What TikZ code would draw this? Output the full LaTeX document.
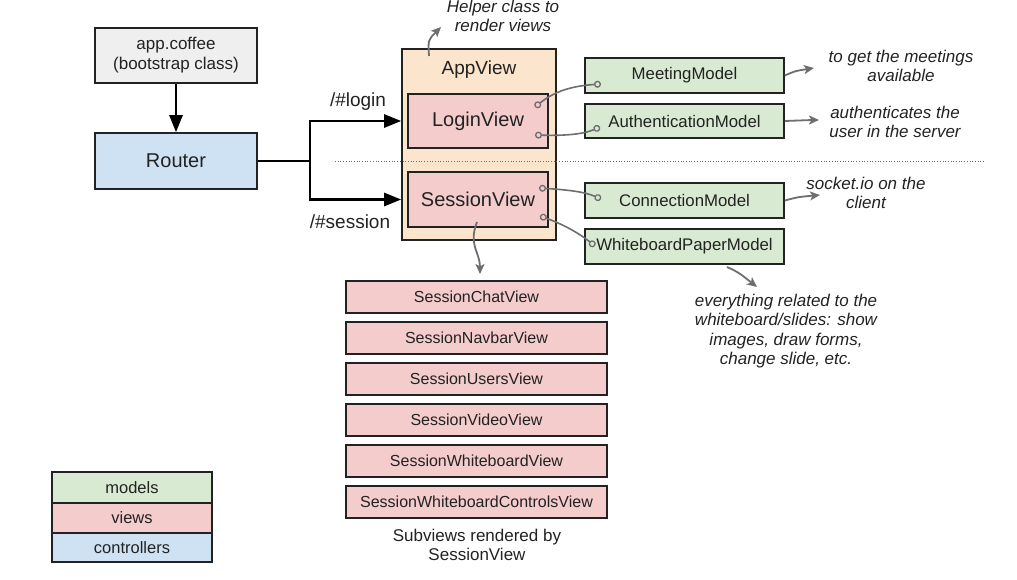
\documentclass[tikz,border=0pt]{standalone}
\usepackage{fontspec}
\setmainfont{Liberation Sans}
\usepackage{tikz}
\usetikzlibrary{arrows,arrows.meta}

\definecolor{modelgreen}{HTML}{D9EAD3}
\definecolor{viewpink}{HTML}{F4CCCC}
\definecolor{ctrlblue}{HTML}{CFE2F3}
\definecolor{appbeige}{HTML}{FCE5CD}
\definecolor{bootgray}{HTML}{EFEFEF}
\definecolor{linkgray}{HTML}{6E6E6E}
\definecolor{inkgray}{HTML}{222222}

\begin{document}
\begin{tikzpicture}[x=1pt,y=-1pt,>=stealth',
				box node/.style={draw=inkgray,line width=1.6pt,inner sep=0pt,text=inkgray},
				model node/.style={box node,fill=modelgreen,minimum width=199pt,minimum height=35pt,font=\fontsize{16.8}{20}\selectfont},
				view node/.style={box node,fill=viewpink,minimum width=140pt,minimum height=54pt,font=\fontsize{20}{24}\selectfont},
				sub node/.style={box node,fill=viewpink,minimum width=261pt,minimum height=32pt,font=\fontsize{16}{19}\selectfont},
				key node/.style={box node,minimum width=160pt,font=\fontsize{16.5}{19}\selectfont},
				note/.style={align=center,text=inkgray,font=\itshape\fontsize{17}{19.5}\selectfont},
				route/.style={-{Triangle[length=17pt,width=13pt]},line width=2.6pt,black},
				link/.style={{Circle[open,length=7pt,line width=1.3pt]}-{Circle[open,length=7pt,line width=1.3pt]},linkgray,line width=1.6pt},
				hint/.style={-{Stealth[length=10pt,width=9pt,inset=2.5pt]},linkgray,line width=1.8pt}]
				
				\useasboundingbox (0,0) rectangle (1017,579);
				
				% bootstrap and router
				\node[box node,fill=bootgray,minimum width=162pt,minimum height=55pt,align=center,
				font=\fontsize{17}{20}\selectfont] (app) at (176,55.5) {app.coffee\\(bootstrap class)};
				\node[box node,fill=ctrlblue,minimum width=162pt,minimum height=56pt,
				font=\fontsize{20}{24}\selectfont] (router) at (176,161) {Router};
				\draw[route] (app) -- (router);
				
				% app view with its two views
				\node[box node,fill=appbeige,minimum width=154pt,minimum height=191pt] (appview) at (479,144.5) {};
				\node[text=inkgray,font=\fontsize{19}{23}\selectfont] (appviewname) at (479,70) {AppView};
				\node[view node] (login) at (478,121) {LoginView};
				\node[view node,minimum height=55pt] (session) at (478,199.5) {SessionView};
				
				\coordinate (fork) at (310,161);
				\draw[line width=2.6pt] (router.east) -- (fork);
				\draw[route,shorten >=6pt] (fork) |- (login.west);
				\draw[route,shorten >=6pt] (fork) |- (session.west);
				\node[font=\fontsize{19}{22}\selectfont,text=inkgray] (loginroute) at (358,102) {/\#login};
				\node[font=\fontsize{19}{22}\selectfont,text=inkgray] (sessionroute) at (350,222) {/\#session};
				
				% separator
				\coordinate (sepL) at (335,161);
				\coordinate (sepR) at (985,161);
				\draw[linkgray,dotted,line width=0.7pt] (sepL) -- (sepR);
				
				% models
				\node[model node] (meeting) at (684.5,75.5) {MeetingModel};
				\node[model node,minimum height=34pt] (auth) at (684.5,121) {AuthenticationModel};
				\node[model node] (conn) at (684.5,200.5) {ConnectionModel};
				\node[model node] (paper) at (684.5,246.5) {WhiteboardPaperModel};
				
				\coordinate (loginA) at (535,107);
				\coordinate (loginB) at (535,135);
				\coordinate (sessionA) at (539,188);
				\coordinate (sessionB) at (540,216);
				\coordinate (meetingIn) at (601,84);
				\coordinate (authIn) at (600,127);
				\coordinate (connIn) at (601,199);
				\coordinate (paperIn) at (595,246);
				\draw[link] (loginA) .. controls (555,91) and (572,86) .. (meetingIn);
				\draw[link] (loginB) .. controls (572,136) and (586,133) .. (authIn);
				\draw[link] (sessionA) .. controls (570,190) and (585,192) .. (connIn);
				\draw[link] (sessionB) .. controls (565,225) and (580,234) .. (paperIn);
				
				% notes
				\node[note] (helper) at (503,16) {Helper class to\\render views};
				\coordinate (helperTip) at (441,27);
				\draw[hint] (429,56) .. controls (428,40) .. (helperTip);
				
				\node[note] (meetingnote) at (901,66) {to get the meetings\\available};
				\node[note] (authnote) at (895,122) {authenticates the\\user in the server};
				\node[note] (connnote) at (866,193) {socket.io on the\\client};
				\node[note] (papernote) at (786,331) {everything related to the\\whiteboard/slides: show\\images, draw forms,\\change slide, etc.};
				\coordinate (meetingTip) at (814,68);
				\coordinate (authTip) at (819,120);
				\coordinate (connTip) at (820,195);
				\coordinate (paperTip) at (757,287);
				\draw[hint] (meeting.east) .. controls (795,71) .. (meetingTip);
				\draw[hint] (auth.east) .. controls (798,120) .. (authTip);
				\draw[hint] (conn.east) .. controls (798,197) .. (connTip);
				\draw[hint] (727,267) .. controls (738,272) .. (paperTip);
				
				% subviews
				\foreach \name [count=\i from 0] in {SessionChatView,SessionNavbarView,SessionUsersView,SessionVideoView,SessionWhiteboardView,SessionWhiteboardControlsView}
				\node[sub node] (sub\i) at (476.5,297+41*\i) {\name};
				\coordinate (subTip) at (480,274);
				\draw[hint] (477,222) .. controls (468,245) and (480,252) .. (subTip);
				\node[align=center,text=inkgray,font=\fontsize{17}{19.5}\selectfont] (subnote) at (477,545) {Subviews rendered by\\SessionView};
				
				% legend
				\node[key node,fill=modelgreen,minimum height=31pt] (keymodels) at (132,487.5) {models};
				\node[key node,fill=viewpink,minimum height=30pt] (keyviews) at (132,518) {views};
				\node[key node,fill=ctrlblue,minimum height=29pt] (keyctrls) at (132,547.5) {controllers};
				
\end{tikzpicture}
\end{document}
